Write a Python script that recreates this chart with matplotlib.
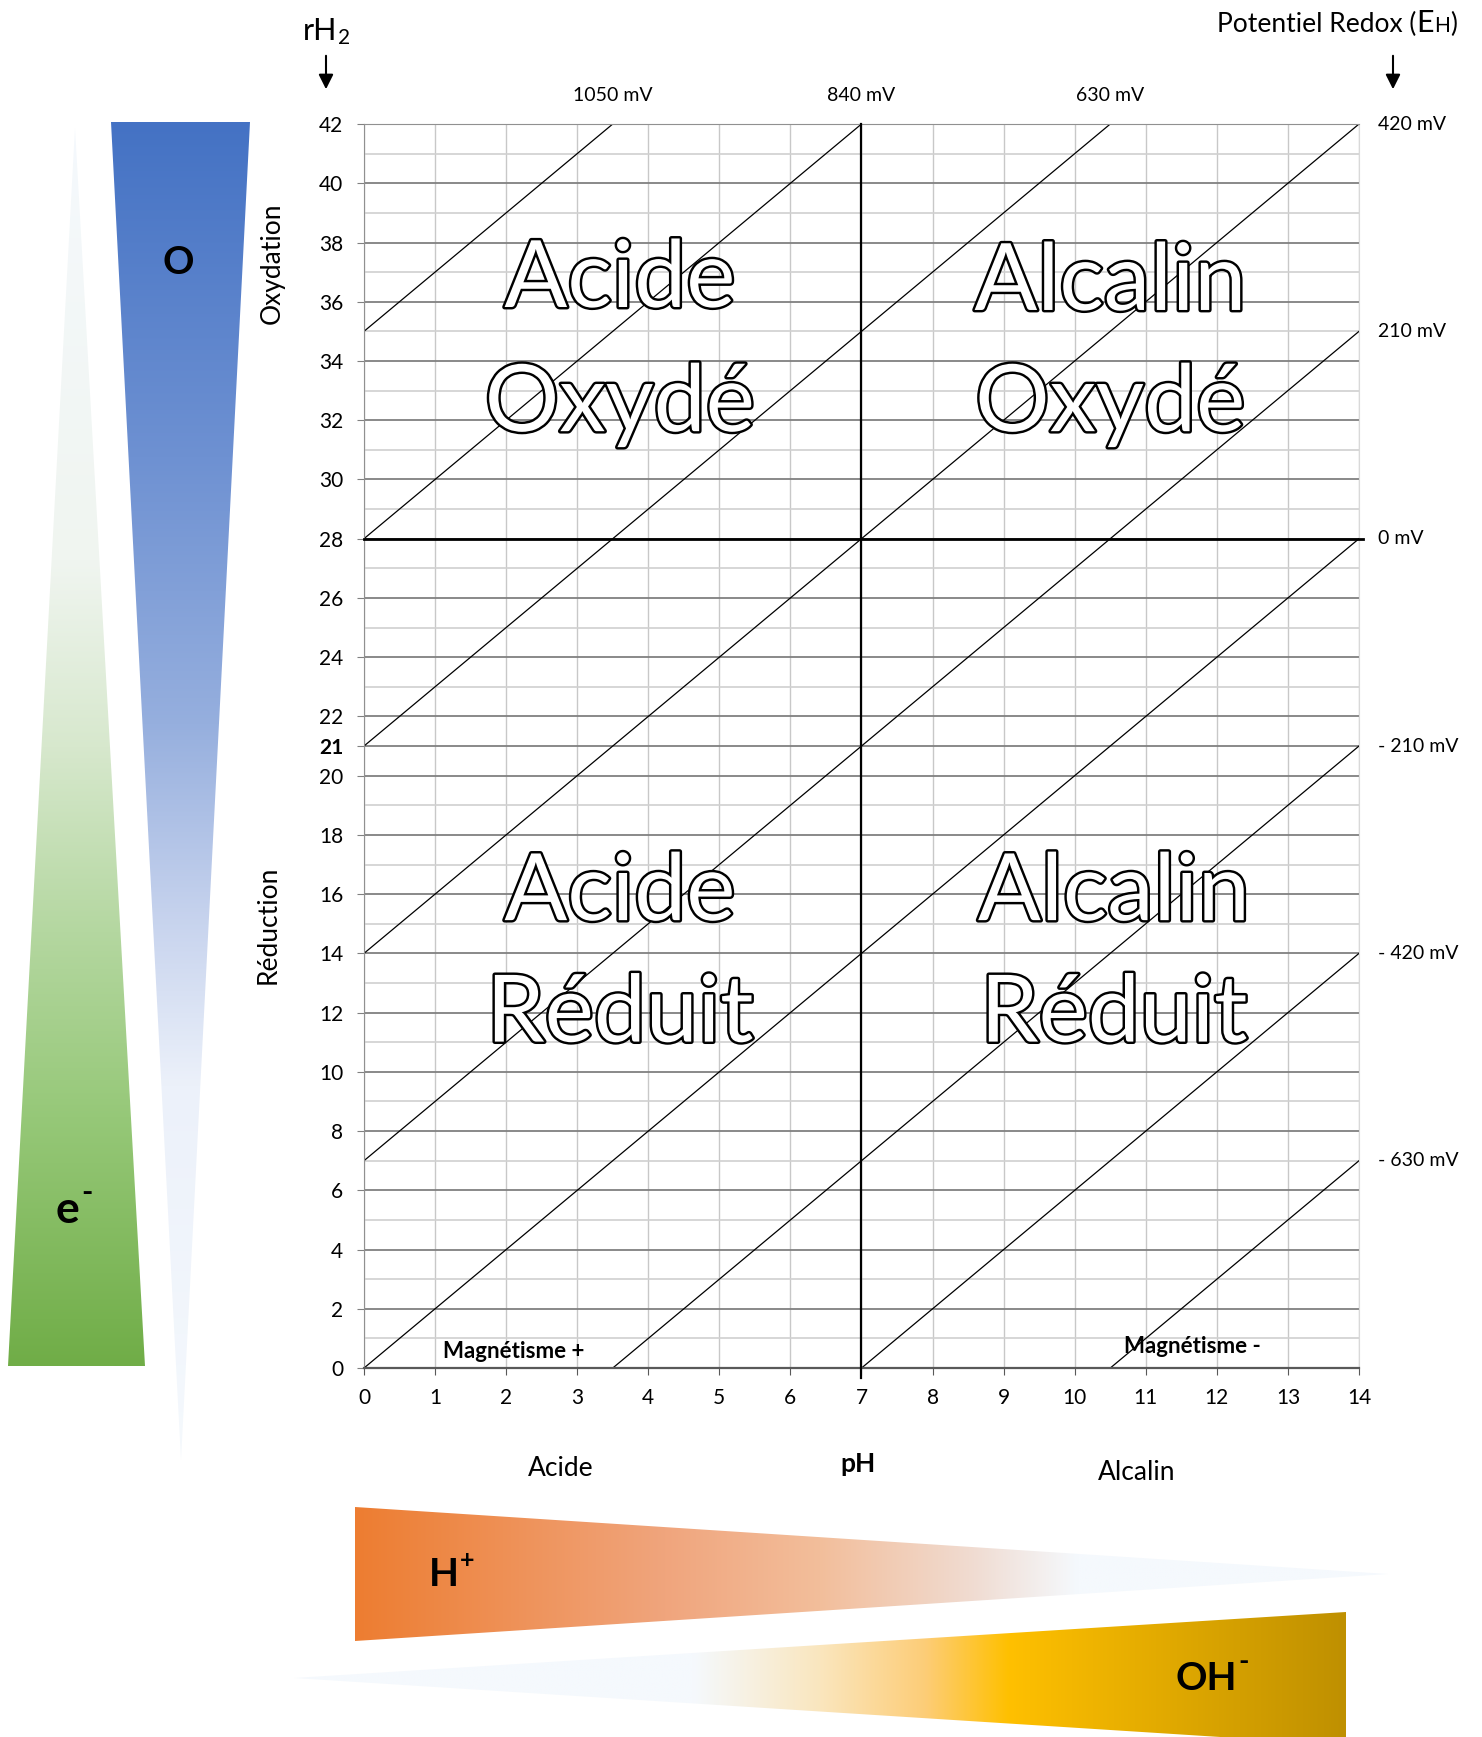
import matplotlib.pyplot as plt
import numpy as np
from matplotlib.patches import Polygon
import matplotlib.patheffects as pe

plt.rcParams['font.family'] = ['Lato', 'DejaVu Sans']

# Données du diagramme rH2 / pH
ph_ticks = np.arange(0, 15)
rh2_major = list(range(0, 43, 2)) + [21]
rh2_minor = [v for v in range(1, 42, 2) if v != 21]
droites_b = [35, 28, 21, 14, 7, 0, -7, -14, -21]   # rH2 = 2 pH + b
mv_droite = ['420 mV', '210 mV', '0 mV', '- 210 mV', '- 420 mV', '- 630 mV']
mv_droite_y = [42, 35, 28, 21, 14, 7]
mv_haut = ['1050 mV', '840 mV', '630 mV']
mv_haut_x = [3.5, 7, 10.5]
zones = ['Acide', 'Oxydé', 'Alcalin', 'Oxydé', 'Acide', 'Réduit', 'Alcalin', 'Réduit']
zones_x = [3.6, 3.6, 10.5, 10.5, 3.6, 3.6, 10.55, 10.55]
zones_y = [36.7, 32.5, 36.6, 32.5, 16.0, 11.9, 16.0, 11.9]

W, H = 1482, 1737
fig = plt.figure(figsize=(W / 100, H / 100), dpi=100)

# calque de fond en pixels pour les formes en dégradé
ax0 = fig.add_axes([0, 0, 1, 1])
ax0.axis('off')


def forme_degrade(verts, stops, couleurs, vertical):
    poly = Polygon(verts, closed=True, facecolor='none', edgecolor='none')
    ax0.add_patch(poly)
    t = np.linspace(0, 1, 400)
    c = np.array(couleurs, dtype=float)
    rgb = np.stack([np.interp(t, stops, c[:, i]) for i in range(3)], -1) / 255
    img = rgb[:, None, :] if vertical else rgb[None, :, :]
    xs = [v[0] for v in verts]
    ys = [v[1] for v in verts]
    im = ax0.imshow(img, extent=(min(xs), max(xs), max(ys), min(ys)),
                    aspect='auto', interpolation='bilinear')
    im.set_clip_path(poly)


# bleu (oxydation)
forme_degrade([(111, 122), (250, 122), (181, 1460)],
              [0, 0.25, 0.45, 0.6, 0.72, 1],
              [(68, 114, 196), (110, 145, 210), (150, 175, 222), (200, 212, 238),
               (236, 241, 250), (245, 249, 253)], True)
# vert (électrons)
forme_degrade([(75, 128), (145, 1366), (8, 1366)],
              [0, 0.35, 0.5, 0.65, 0.8, 1],
              [(245, 249, 253), (240, 245, 240), (215, 232, 205), (180, 215, 160),
               (150, 200, 120), (112, 173, 71)], True)
# orange (H+)
forme_degrade([(355, 1507), (1388, 1574), (355, 1641)],
              [0, 0.3, 0.45, 0.6, 0.7, 1],
              [(237, 125, 49), (240, 165, 125), (243, 190, 155), (240, 220, 210),
               (245, 249, 253), (245, 249, 253)], False)
# or (OH-)
forme_degrade([(294, 1678), (1346, 1612), (1346, 1745)],
              [0, 0.38, 0.5, 0.6, 0.68, 1],
              [(245, 249, 253), (245, 249, 253), (250, 230, 190), (253, 205, 120),
               (255, 192, 0), (191, 144, 0)], False)
ax0.set_xlim(0, W)
ax0.set_ylim(H, 0)

# graphique principal
ax = fig.add_axes([0.2456, 0.2124, 0.6714, 0.7162])
ax.set_facecolor('none')
ax.set_xlim(0, 14)
ax.set_ylim(0, 42)

for v in ph_ticks:
    ax.axvline(v, color='#c8c8c8', lw=1, zorder=1)
for v in rh2_minor:
    ax.axhline(v, color='#d0d0d0', lw=1.2, zorder=1)
for v in rh2_major:
    ax.axhline(v, color='#808080', lw=1.3, zorder=1)

for b in droites_b:
    x0 = max(0, -b / 2)
    x1 = min(14, (42 - b) / 2)
    xx = np.array([x0, x1])
    ax.plot(xx, 2 * xx + b, color='black', lw=0.9, zorder=2)

ax.plot([0, 14.06], [28, 28], color='black', lw=2, zorder=3, clip_on=False)
ax.plot([7, 7], [-0.35, 42], color='black', lw=1.6, zorder=3, clip_on=False)

ax.set_xticks(ph_ticks)
ax.set_yticks(rh2_major)
ax.set_yticks(rh2_minor, minor=True)
ax.tick_params(axis='y', which='major', length=5, color='#808080', labelsize=15, pad=10)
ax.tick_params(axis='y', which='minor', length=0)
ax.tick_params(axis='x', length=5, color='#595959', labelsize=15, pad=9)
for lab in ax.get_yticklabels():
    if lab.get_text() == '21':
        lab.set_fontweight('bold')

for s in ['left', 'top']:
    ax.spines[s].set_color('#909090')
ax.spines['right'].set_color('#d9d9d9')
ax.spines['bottom'].set_color('#595959')
ax.spines['bottom'].set_linewidth(1.6)

for s, x, y in zip(zones, zones_x, zones_y):
    ax.text(x, y, s, fontsize=67, color='white', ha='center', va='center', zorder=4,
            path_effects=[pe.withStroke(linewidth=3.5, foreground='black')])

for s, y in zip(mv_droite, mv_droite_y):
    ax.text(14.27, y, s, ha='left', va='center', fontsize=14, clip_on=False)
for s, x in zip(mv_haut, mv_haut_x):
    ax.text(x, 42.95, s, ha='center', va='center', fontsize=14, clip_on=False)

ax.text(2.1, 0.55, 'Magnétisme +', fontweight='bold', fontsize=16, ha='center', va='center', zorder=4)
ax.text(11.65, 0.72, 'Magnétisme -', fontweight='bold', fontsize=16, ha='center', va='center', zorder=4)

# textes autour
ax0.text(272, 263, 'Oxydation', rotation=90, fontsize=19, ha='center', va='center')
ax0.text(268, 925, 'Réduction', rotation=90, fontsize=19, ha='center', va='center')
ax0.text(561, 1468, 'Acide', fontsize=19, ha='center', va='center')
ax0.text(858, 1464, 'pH', fontsize=19, fontweight='bold', ha='center', va='center')
ax0.text(1137, 1473, 'Alcalin', fontsize=19, ha='center', va='center')

ax0.text(178, 263, 'O', fontsize=28, fontweight='bold', ha='center', va='center')
ax0.text(67, 1210, 'e', fontsize=32, fontweight='bold', ha='center', va='center')
ax0.text(87, 1193, '-', fontsize=22, fontweight='bold', ha='center', va='center')
ax0.text(444, 1574, 'H', fontsize=28, fontweight='bold', ha='center', va='center')
ax0.text(467, 1560, '+', fontsize=18, fontweight='bold', ha='center', va='center')
ax0.text(1206, 1678, 'OH', fontsize=28, fontweight='bold', ha='center', va='center')
ax0.text(1244, 1662, '-', fontsize=20, fontweight='bold', ha='center', va='center')

# rH2 et Potentiel Redox (EH)
ax0.text(303, 40, 'rH', fontsize=22, ha='left', va='baseline')
ax0.text(338, 44, '2', fontsize=15, ha='left', va='baseline')
ax0.annotate('', xy=(326, 92), xytext=(326, 53),
             arrowprops=dict(arrowstyle='-|>', color='black', lw=1.5, mutation_scale=22))

r = fig.canvas.get_renderer()
x = 1217
for s, fs in [('Potentiel Redox (', 19), ('E', 22), ('H', 15), (')', 19)]:
    t = ax0.text(x, 32, s, fontsize=fs, ha='left', va='baseline')
    x = t.get_window_extent(r).x1
ax0.annotate('', xy=(1393, 92), xytext=(1393, 53),
             arrowprops=dict(arrowstyle='-|>', color='black', lw=1.5, mutation_scale=22))

fig.savefig('out.png', dpi=100)
